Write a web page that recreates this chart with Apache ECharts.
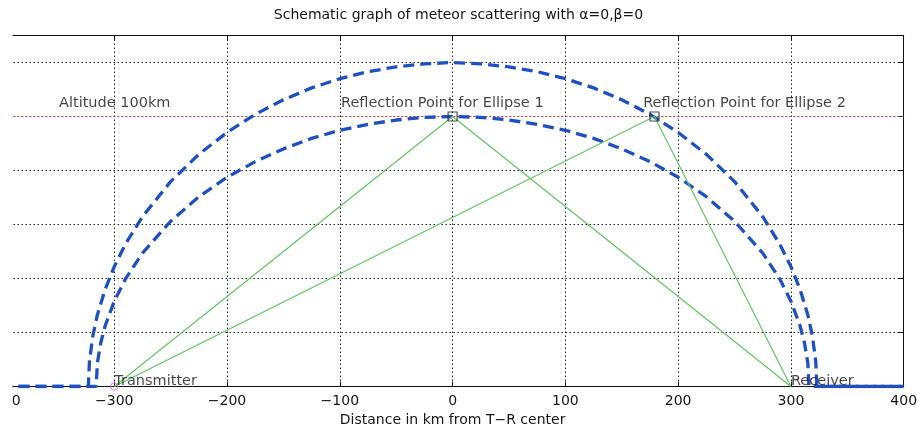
<!DOCTYPE html>
<html>
<head>
<meta charset="utf-8">
<script src="https://cdn.jsdelivr.net/npm/echarts@6/dist/echarts.min.js"></script>
<style>
html,body{margin:0;padding:0;background:#fff;}
#chart{width:917px;height:428px;}
</style>
</head>
<body>
<div id="chart"></div>
<script>
// ---- data ----
const titleText = 'Schematic graph of meteor scattering with \u03b1=0,\u03b2=0';
const xAxisName = 'Distance in km from T\u2212R center';
const xTicks = [-400, -300, -200, -100, 0, 100, 200, 300, 400];

// inner ellipse (through reflection point 1), incl. ground segments
const ellipse1 = [
  [-400,0],[-316,0],[-315,8.7],[-312,16.2],[-308,22.6],[-300,31.6],[-290,39.9],[-275,49.4],
  [-250,61.2],[-225,70.3],[-200,77.5],[-175,83.3],[-150,88.0],[-125,91.9],[-100,94.9],
  [-75,97.1],[-50,98.7],[-25,99.7],[0,100],[25,99.7],[50,98.7],[75,97.1],[100,94.9],
  [125,91.9],[150,88.0],[175,83.3],[200,77.5],[225,70.3],[250,61.2],[275,49.4],[290,39.9],
  [300,31.6],[308,22.6],[312,16.2],[315,8.7],[316,0],[400,0]
];
// outer ellipse (through reflection point 2), incl. ground segments
const ellipse2 = [
  [-400,0],[-323,0],[-322,9.4],[-319,18.8],[-315,26.5],[-308,36.1],[-300,44.4],[-290,52.8],
  [-275,62.9],[-250,75.9],[-225,86.0],[-200,94.1],[-175,100.8],[-150,106.2],[-125,110.6],
  [-100,114.0],[-75,116.6],[-50,118.4],[-25,119.5],[0,120],[25,119.5],[50,118.4],[75,116.6],
  [100,114.0],[125,110.6],[150,106.2],[175,100.8],[200,94.1],[225,86.0],[250,75.9],[275,62.9],
  [290,52.8],[300,44.4],[308,36.1],[315,26.5],[319,18.8],[322,9.4],[323,0],[400,0]
];
const altitudeLine = [[-400,100],[400,100]];
const transmitter = [-300, 0];
const receiver = [300, 0];
const reflection1 = [0, 100];
const reflection2 = [179, 100];
const path1 = [transmitter, reflection1, receiver];
const path2 = [transmitter, reflection2, receiver];

const labelTexts = ['Altitude 100km', 'Reflection Point for Ellipse 1', 'Reflection Point for Ellipse 2', 'Transmitter', 'Receiver'];
const labelX = [-349, -99, 169, -300, 300];
const labelY = [105, 105, 105, 2, 2];

// ---- chart ----
const FONT = '"DejaVu Sans", "Liberation Sans", Arial, sans-serif';
const FS = 14;
const TXT = '#151515';
const gridDash = [1.5, 2.5];
const chart = echarts.init(document.getElementById('chart'));
const fmt = v => String(v).replace('-', '\u2212');

chart.setOption({
  animation: false,
  backgroundColor: '#ffffff',
  title: {
    text: titleText, left: 'center', top: 3,
    textStyle: { fontFamily: FONT, fontSize: FS, fontWeight: 'normal', color: TXT }
  },
  grid: { left: 1.5, right: 13.3, top: 35.5, bottom: 41.5, containLabel: false, outerBoundsMode: 'none' },
  // the reference picture is cropped: a white strip hides its left edge
  graphic: [{
    type: 'rect', left: 0, top: 28, z: 100, silent: true,
    shape: { width: 12.5, height: 384 }, style: { fill: '#ffffff' }
  }],
  xAxis: [
    {
      type: 'value', min: -400, max: 400, interval: 100, position: 'bottom',
      name: xAxisName, nameLocation: 'middle', nameGap: 26,
      nameTextStyle: { fontFamily: FONT, fontSize: FS, color: TXT },
      axisLine: { onZero: false, lineStyle: { color: '#111', width: 1 } },
      axisTick: { inside: true, length: 5, lineStyle: { color: '#111' } },
      axisLabel: { fontFamily: FONT, fontSize: FS, color: TXT, margin: 8, formatter: fmt, showMinLabel: true, showMaxLabel: true },
      splitLine: { show: true, lineStyle: { color: '#222', type: gridDash, width: 1 } }
    },
    {
      type: 'value', min: -400, max: 400, interval: 100, position: 'top',
      axisLine: { onZero: false, lineStyle: { color: '#111', width: 1 } },
      axisTick: { inside: true, length: 5, lineStyle: { color: '#111' } },
      axisLabel: { show: false }, splitLine: { show: false }
    }
  ],
  yAxis: [
    {
      type: 'value', min: 0, max: 130, interval: 20, position: 'left',
      axisLine: { show: false }, axisTick: { show: false }, axisLabel: { show: false },
      splitLine: { show: true, lineStyle: { color: '#222', type: gridDash, width: 1 } }
    },
    {
      type: 'value', min: 0, max: 130, interval: 20, position: 'right',
      axisLine: { show: true, onZero: false, lineStyle: { color: '#111', width: 1 } },
      axisTick: { show: true, inside: true, length: 5, lineStyle: { color: '#111' } },
      axisLabel: { show: false }, splitLine: { show: false }
    }
  ],
  series: [
    {
      type: 'line', data: altitudeLine, symbol: 'none', silent: true,
      lineStyle: { color: '#d04848', width: 1, type: [2, 2] }, z: 2
    },
    {
      type: 'line', data: ellipse1, symbol: 'none', silent: true,
      lineStyle: { color: '#1f50c0', width: 3.3, type: [11, 6] }, z: 3
    },
    {
      type: 'line', data: ellipse2, symbol: 'none', silent: true,
      lineStyle: { color: '#1f50c0', width: 3.3, type: [11, 6] }, z: 3
    },
    {
      type: 'line', data: path1, symbol: 'none', silent: true,
      lineStyle: { color: '#66c266', width: 1.2 }, z: 4
    },
    {
      type: 'line', data: path2, symbol: 'none', silent: true,
      lineStyle: { color: '#66c266', width: 1.2 }, z: 4
    },
    {
      type: 'scatter', data: [reflection1, reflection2], symbol: 'rect', symbolSize: 9,
      itemStyle: { color: 'rgba(0,0,0,0)', borderColor: '#222', borderWidth: 1.2 }, z: 5
    },
    {
      type: 'scatter', data: [transmitter], symbol: 'circle', symbolSize: 7,
      itemStyle: { color: 'rgba(0,0,0,0)', borderColor: '#e070d8', borderWidth: 1.2 }, z: 5
    },
    {
      type: 'scatter', symbolSize: 0, z: 6,
      data: labelTexts.map((t, i) => ({ value: [labelX[i], labelY[i]], name: t })),
      label: {
        show: true, position: 'right', distance: 0, formatter: p => p.name,
        fontFamily: FONT, fontSize: 14.5, color: TXT
      }
    }
  ]
});
</script>
</body>
</html>
